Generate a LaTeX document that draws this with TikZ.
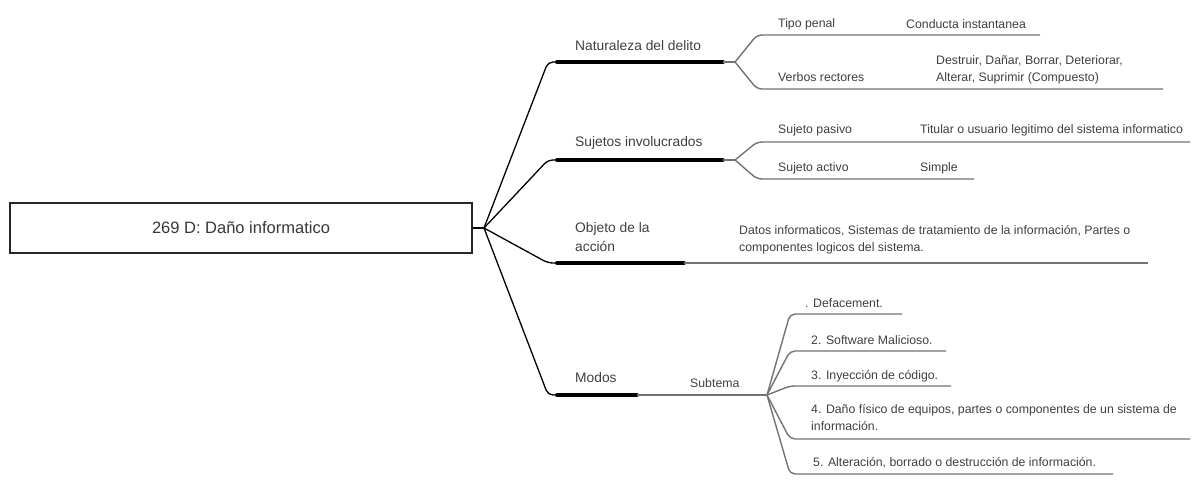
\documentclass[tikz,border=0pt]{standalone}
\usepackage{fontspec}
\setmainfont{Liberation Sans}
\begin{document}
\begin{tikzpicture}[x=1pt,y=-1pt,
  txt/.style={anchor=west, inner sep=0pt, text=black!75, align=left,
    font=\fontsize{12.3}{17}\selectfont},
  maintxt/.style={txt, font=\fontsize{13.8}{18.5}\selectfont},
  link/.style={draw=black, line width=1.3pt, rounded corners=5pt},
  bar/.style={draw=black, line width=4pt, line cap=round},
  leaf/.style={draw=black!55, line width=1.4pt, rounded corners=5pt},
]
\useasboundingbox[fill=white] (0,0) rectangle (1192,486);

% central topic
\node[draw=black!85, line width=1.6pt, minimum width=462pt, minimum height=50pt,
      inner sep=0pt, text=black!78, font=\fontsize{16.5}{19}\selectfont]
      (root) at (241,228) {269 D: Daño informatico};
\coordinate (hub) at (484,228);
\draw[link] (root.east) -- (hub);

% ---------- Naturaleza del delito ----------
\coordinate (n1) at (548,62);
\coordinate (n1a) at (557,62);
\coordinate (n1b) at (723,62);
\coordinate (n1f) at (735,62);
\draw[link] (hub) -- (n1) -- (n1a);
\draw[bar] (n1a) -- (n1b);
\draw[leaf] (n1b) -- (n1f);
\node[maintxt] (nat) at (575,46) {Naturaleza del delito};
\coordinate (tp0) at (757,35);  \coordinate (tp1) at (1040,35);
\coordinate (vr0) at (757,89);  \coordinate (vr1) at (1163,89);
\draw[leaf] (n1f) -- (tp0) -- (tp1);
\draw[leaf] (n1f) -- (vr0) -- (vr1);
\node[txt] (tipo) at (778,24) {Tipo penal};
\node[txt] (cond) at (906,24) {Conducta instantanea};
\node[txt] (verb) at (778,77) {Verbos rectores};
\node[txt] (dest) at (936,70) {Destruir, Dañar, Borrar, Deteriorar,\\Alterar, Suprimir (Compuesto)};

% ---------- Sujetos involucrados ----------
\coordinate (n2) at (548,160);
\coordinate (n2a) at (557,160);
\coordinate (n2b) at (723,160);
\coordinate (n2f) at (735,160);
\draw[link] (hub) -- (n2) -- (n2a);
\draw[bar] (n2a) -- (n2b);
\draw[leaf] (n2b) -- (n2f);
\node[maintxt] (suj) at (575,143) {Sujetos involucrados};
\coordinate (sp0) at (757,142); \coordinate (sp1) at (1190,142);
\coordinate (sa0) at (757,179); \coordinate (sa1) at (974,179);
\draw[leaf] (n2f) -- (sp0) -- (sp1);
\draw[leaf] (n2f) -- (sa0) -- (sa1);
\node[txt] (pas) at (778,130) {Sujeto pasivo};
\node[txt] (tit) at (920,130) {Titular o usuario legitimo del sistema informatico};
\node[txt] (act) at (778,168) {Sujeto activo};
\node[txt] (sim) at (920,168) {Simple};

% ---------- Objeto de la acción ----------
\coordinate (n3) at (548,263);
\coordinate (n3a) at (557,263);
\coordinate (n3b) at (684,263);
\coordinate (n3c) at (1148,263);
\draw[link] (hub) -- (n3) -- (n3a);
\draw[bar] (n3a) -- (n3b);
\draw[leaf] (n3b) -- (n3c);
\node[maintxt] (obj) at (575,237) {Objeto de la\\acción};
\node[txt] (dat) at (739,240) {Datos informaticos, Sistemas de tratamiento de la información, Partes o\\componentes logicos del sistema.};

% ---------- Modos ----------
\coordinate (n4) at (548,395);
\coordinate (n4a) at (557,395);
\coordinate (n4b) at (637,395);
\coordinate (n4f) at (767,395);
\draw[link] (hub) -- (n4) -- (n4a);
\draw[bar] (n4a) -- (n4b);
\draw[leaf] (n4b) -- (n4f);
\node[maintxt] (mod) at (575,378) {Modos};
\node[txt] (sub) at (690,383) {Subtema};
\coordinate (m10) at (790,314); \coordinate (m11) at (902,314);
\coordinate (m20) at (790,351); \coordinate (m21) at (946,351);
\coordinate (m30) at (790,386); \coordinate (m31) at (951,386);
\coordinate (m40) at (790,439); \coordinate (m41) at (1190,439);
\coordinate (m50) at (790,474); \coordinate (m51) at (1113,474);
\foreach \k in {1,...,5}{
  \draw[leaf] (n4f) -- (m\k0) -- (m\k1);
}
\node[txt] (def) at (805,303) {. Defacement.};
\node[txt] (sw) at (811,340) {2. Software Malicioso.};
\node[txt] (iny) at (811,376) {3. Inyección de código.};
\node[txt] (fis) at (811,418) {4. Daño físico de equipos, partes o componentes de un sistema de\\información.};
\node[txt] (alt) at (813,463) {5. Alteración, borrado o destrucción de información.};
\end{tikzpicture}
\end{document}
